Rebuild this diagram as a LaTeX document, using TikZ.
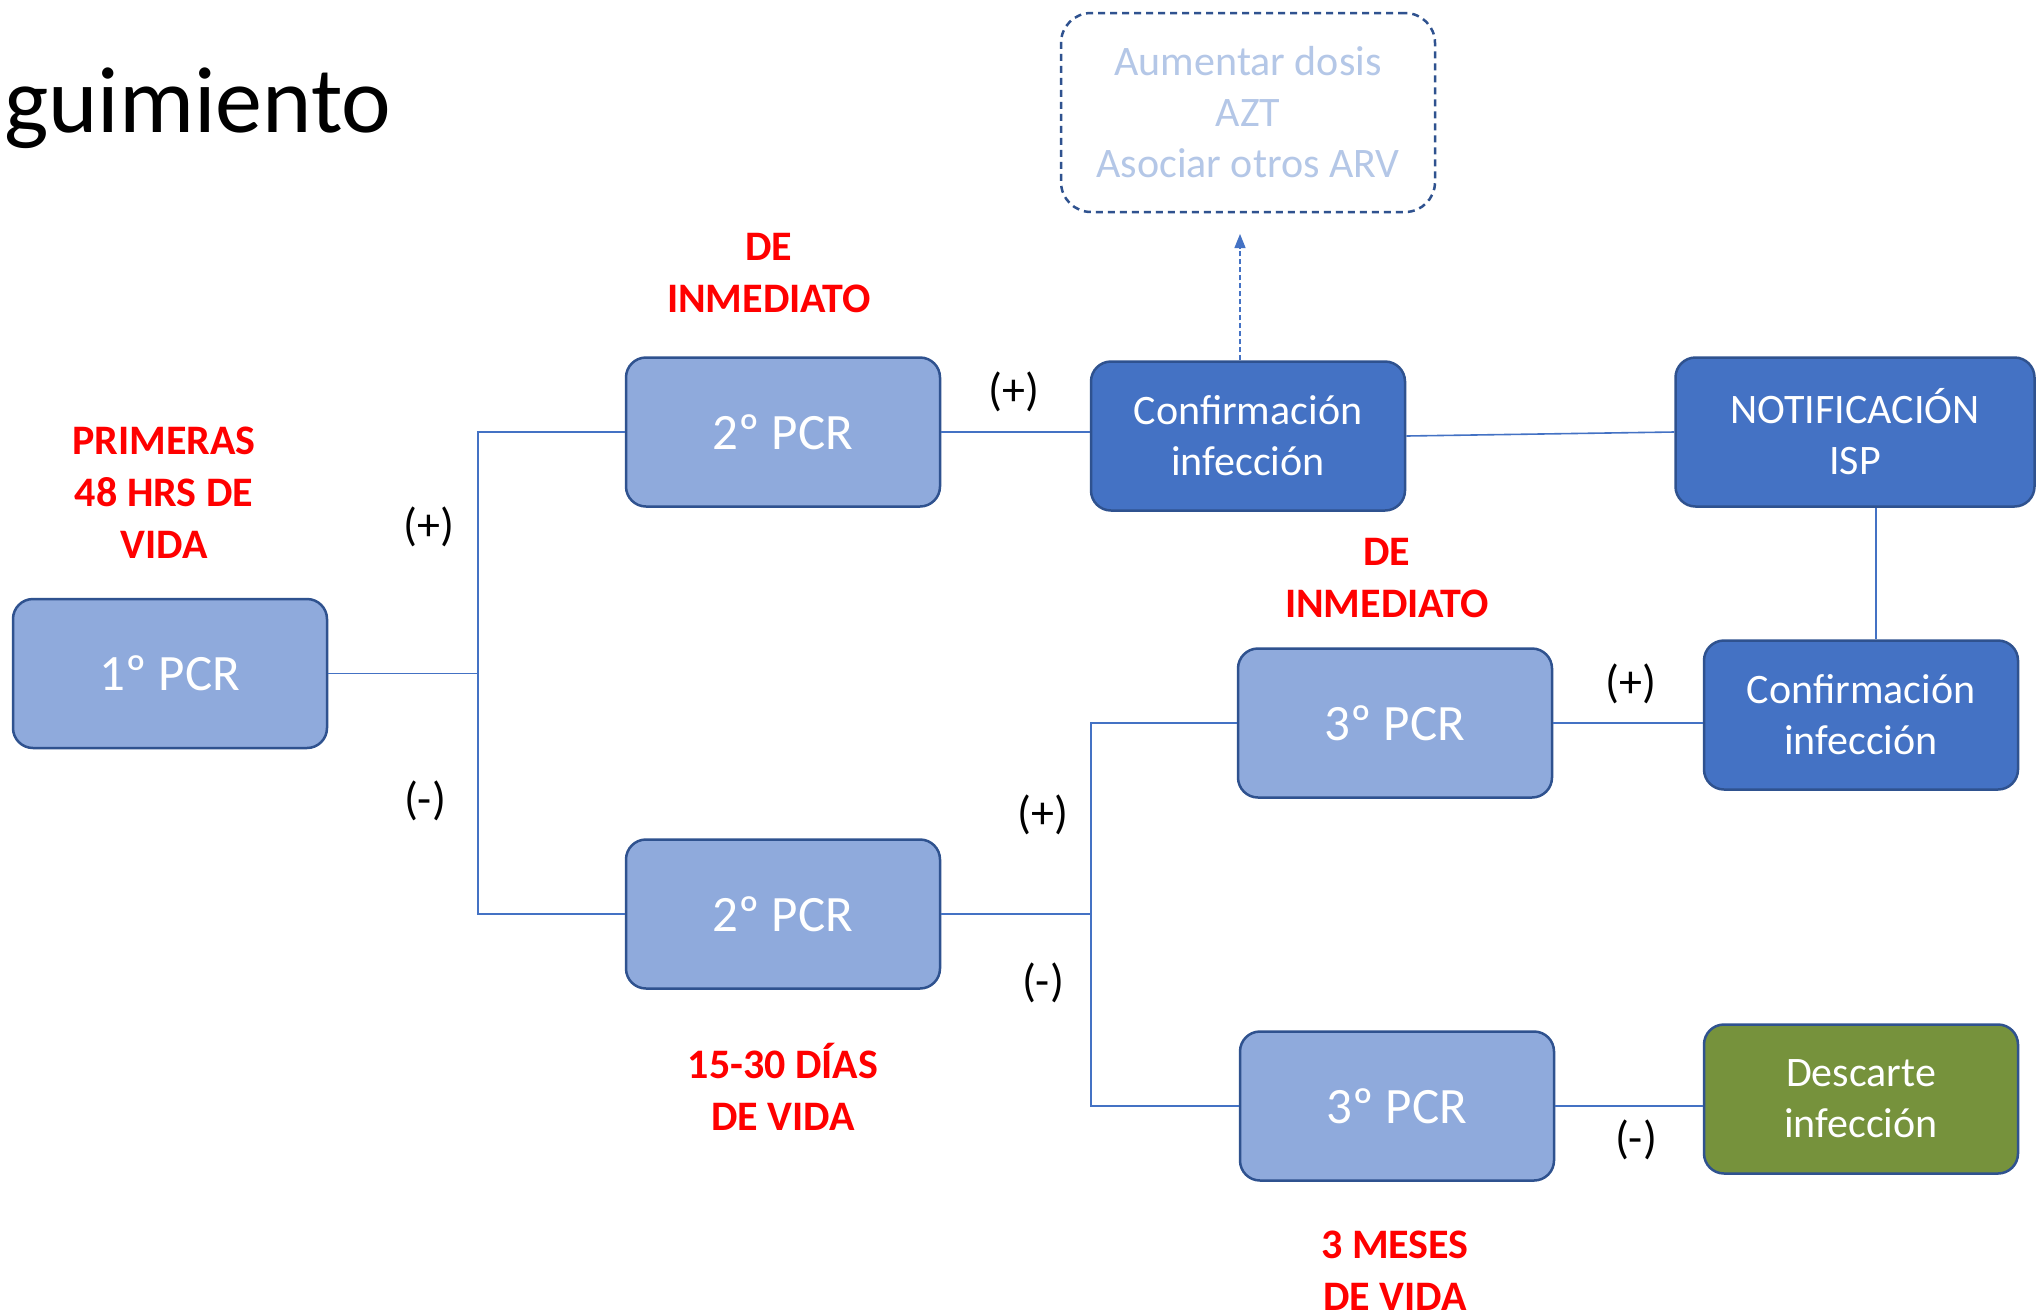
\documentclass[tikz,border=0pt]{standalone}
\usepackage{fontspec}
\setmainfont{Carlito}
\usetikzlibrary{arrows.meta}
\definecolor{lightfill}{HTML}{8FAADC}
\definecolor{darkfill}{HTML}{4472C4}
\definecolor{boxedge}{HTML}{2F528F}
\definecolor{linecol}{HTML}{4472C4}
\definecolor{greenfill}{HTML}{76923C}
\definecolor{paletext}{HTML}{B4C7E7}
\definecolor{redtext}{HTML}{FF0000}
\tikzset{
  pcrbox/.style={draw=boxedge, fill=lightfill, line width=2.5pt, rounded corners=20pt,
    minimum width=314pt, minimum height=149pt, inner sep=0pt, text=white, align=center,
    font=\fontsize{51}{60}\selectfont},
  darkbox/.style={pcrbox, fill=darkfill, font=\fontsize{42}{51}\selectfont},
  greenbox/.style={pcrbox, fill=greenfill, font=\fontsize{42}{51}\selectfont},
  dashbox/.style={draw=boxedge, dashed, dash pattern=on 7pt off 5pt, line width=2.5pt,
    rounded corners=30pt, minimum width=374pt, minimum height=199pt, inner sep=0pt,
    text=paletext, align=center, font=\fontsize{42}{51}\selectfont},
  conn/.style={draw=linecol, line width=1.6pt},
  sign/.style={font=\fontsize{46}{50}\selectfont, text=black, inner sep=0pt},
  redlabel/.style={font=\bfseries\fontsize{42}{52}\selectfont, text=redtext, align=center, inner sep=0pt},
}
\begin{document}
\begin{tikzpicture}[x=1pt,y=-1pt]
\useasboundingbox[fill=white] (0,0) rectangle (2036,1315);

% title
\node[anchor=base west, inner sep=0pt, font=\fontsize{94}{110}\selectfont] (title) at (4,132) {guimiento};

% boxes
\node[pcrbox] (p1) at (170,673.5) {1º PCR};
\node[pcrbox] (p2a) at (783,432) {2º PCR};
\node[pcrbox] (p2b) at (783,914) {2º PCR};
\node[darkbox] (conf1) at (1248,436) {Confirmación\\infección};
\node[darkbox, minimum width=359pt] (notif) at (1855,432) {NOTIFICACIÓN\\ISP};
\node[pcrbox] (p3a) at (1395,723) {3º PCR};
\node[pcrbox] (p3b) at (1397,1106) {3º PCR};
\node[darkbox] (conf2) at (1861,715) {Confirmación\\infección};
\node[greenbox] (desc) at (1861,1099) {Descarte\\infección};
\node[dashbox] (dose) at (1248,112.5) {Aumentar dosis\\AZT\\Asociar otros ARV};

% junctions
\coordinate (j1) at (478,673.5);
\coordinate (j2) at (1091,914);
\coordinate (tip) at (1240,234);

% connectors
\draw[conn] (p1.east) -- (j1);
\draw[conn] (p2a.west) -| (j1) |- (p2b.west);
\draw[conn] (p2a.east) -- (p2a.east -| conf1.west);
\draw[conn] (conf1.east) -- (notif.west);
\draw[conn] ([xshift=21pt]notif.south) -- ([xshift=21pt]notif.south |- conf2.north);
\draw[conn] (p2b.east) -- (j2);
\draw[conn] (p3a.west) -| (j2) |- (p3b.west);
\draw[conn] (p3a.east) -- (p3a.east -| conf2.west);
\draw[conn] (p3b.east) -- (p3b.east -| desc.west);
\draw[conn, line width=1.3pt, dash pattern=on 5pt off 3pt, -{Triangle[length=14pt,width=11pt]}] (conf1.north -| tip) -- (tip);

% signs
\node[sign] (s1) at (429,527) {(+)};
\node[sign] (s2) at (425,801) {(-)};
\node[sign] (s3) at (1014,392) {(+)};
\node[sign] (s4) at (1043,815) {(+)};
\node[sign] (s5) at (1043,983) {(-)};
\node[sign] (s6) at (1631,684) {(+)};
\node[sign] (s7) at (1636,1140) {(-)};

% red time labels
\node[redlabel] (r1) at (164,493) {PRIMERAS\\48 HRS DE\\VIDA};
\node[redlabel] (r2) at (769,273) {DE\\INMEDIATO};
\node[redlabel] (r3) at (1387,578) {DE\\INMEDIATO};
\node[redlabel] (r4) at (783,1087) {15-30 DÍAS\\DE VIDA};
\node[redlabel] (r5) at (1395,1271) {3 MESES\\DE VIDA};
\end{tikzpicture}
\end{document}
